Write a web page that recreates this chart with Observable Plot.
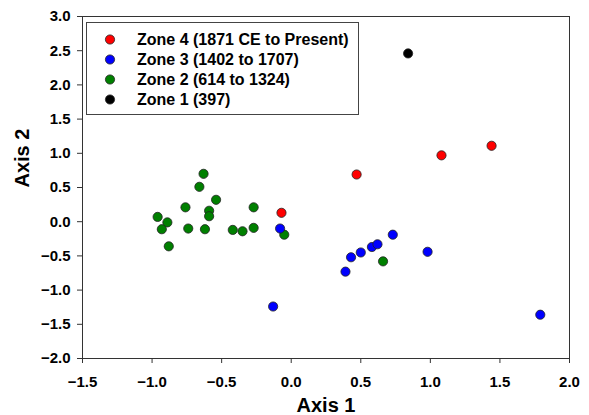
<!DOCTYPE html>
<html><head><meta charset="utf-8">
<script src="https://cdn.jsdelivr.net/npm/d3@7"></script>
<script src="https://cdn.jsdelivr.net/npm/@observablehq/plot@0.6"></script>
<style>
body{margin:0;background:#fff;}
#chart svg{display:block;}
</style>
</head><body><div id="chart"></div>
<script>
// Zone labels and colours
const zoneLabels = ["Zone 4 (1871 CE to Present)", "Zone 3 (1402 to 1707)", "Zone 2 (614 to 1324)", "Zone 1 (397)"];
const zoneColors = ["#ff0000", "#0000ff", "#008000", "#000000"];

// Zone 4
const zone4X = [-0.07, 0.47, 1.08, 1.44];
const zone4Y = [0.13, 0.69, 0.97, 1.11];
// Zone 3
const zone3X = [-0.08, -0.13, 0.39, 0.43, 0.50, 0.58, 0.62, 0.73, 0.98, 1.79];
const zone3Y = [-0.10, -1.24, -0.73, -0.52, -0.45, -0.37, -0.33, -0.19, -0.44, -1.36];
// Zone 2
const zone2X = [-0.63, -0.66, -0.54, -0.76, -0.59, -0.59, -0.96, -0.89, -0.93, -0.74, -0.62, -0.88, -0.42, -0.35, -0.27, -0.27, -0.05, 0.66];
const zone2Y = [0.70, 0.51, 0.32, 0.21, 0.16, 0.08, 0.07, -0.01, -0.11, -0.10, -0.11, -0.36, -0.12, -0.14, -0.09, 0.21, -0.19, -0.58];
// Zone 1
const zone1X = [0.84];
const zone1Y = [2.46];

const xTicks = [-1.5, -1.0, -0.5, 0.0, 0.5, 1.0, 1.5, 2.0];
const yTicks = [-2.0, -1.5, -1.0, -0.5, 0.0, 0.5, 1.0, 1.5, 2.0, 2.5, 3.0];

const series = [
  [zone2X, zone2Y, zoneLabels[2]],
  [zone3X, zone3Y, zoneLabels[1]],
  [zone4X, zone4Y, zoneLabels[0]],
  [zone1X, zone1Y, zoneLabels[3]]
];
const data = series.flatMap(([xs, ys, z]) => xs.map((x, i) => ({x, y: ys[i], zone: z})));

const font = "'Liberation Sans', Arial, sans-serif";

const plot = Plot.plot({
  width: 589,
  height: 415,
  marginLeft: 82,
  marginRight: 20,
  marginTop: 16,
  marginBottom: 57,
  style: {fontFamily: font, background: "#fff", color: "#000"},
  x: {domain: [-1.5, 2.0]},
  y: {domain: [-2.0, 3.0]},
  color: {domain: zoneLabels, range: zoneColors},
  marks: [
    Plot.frame({stroke: "#333", strokeWidth: 1}),
    Plot.axisX({ticks: xTicks, tickFormat: d3.format(".1f"), tickSize: 5, tickPadding: 13, fontSize: 15, fontWeight: "bold", label: null, stroke: "#333"}),
    Plot.axisY({ticks: yTicks, tickFormat: d3.format(".1f"), tickSize: 5, tickPadding: 7, fontSize: 15, fontWeight: "bold", label: null, stroke: "#333"}),
    Plot.text(["Axis 1"], {frameAnchor: "bottom", dy: 53, fontSize: 20, fontWeight: "bold", fill: "#000"}),
    Plot.text(["Axis 2"], {frameAnchor: "left", dx: -60, rotate: -90, fontSize: 20, fontWeight: "bold", fill: "#000"}),
    Plot.dot(data, {x: "x", y: "y", fill: "zone", r: 4.6, stroke: "#222", strokeWidth: 0.8})
  ]
});

document.getElementById("chart").append(plot);

// Legend box drawn into the same SVG
const svg = d3.select(plot);
const lg = svg.append("g").attr("font-family", font).attr("text-anchor", "start");
lg.append("rect").attr("x", 86.5).attr("y", 22.5).attr("width", 272).attr("height", 92)
  .attr("fill", "#fff").attr("stroke", "#444").attr("stroke-width", 1);
zoneLabels.forEach((lab, i) => {
  const cy = 39.5 + i * 20;
  lg.append("circle").attr("cx", 110).attr("cy", cy).attr("r", 4.6)
    .attr("fill", zoneColors[i]).attr("stroke", "#222").attr("stroke-width", 0.8);
  lg.append("text").attr("x", 137).attr("y", cy).attr("dy", "0.36em")
    .attr("text-anchor", "start")
    .attr("font-size", 16).attr("font-weight", "bold").attr("fill", "#000").text(lab);
});
</script>
</body></html>
